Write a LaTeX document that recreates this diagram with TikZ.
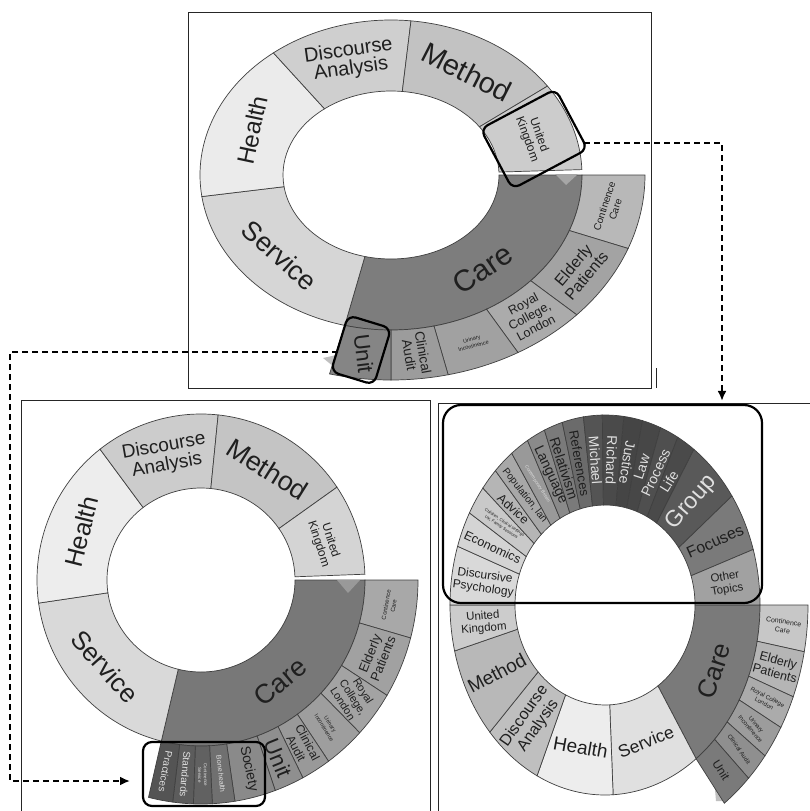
\documentclass[tikz,border=0pt]{standalone}
\usepackage{fontspec}
\setmainfont{Liberation Sans}
\usetikzlibrary{calc,arrows.meta}
\newcommand\fsz[2]{\fontsize{#1}{#2}\selectfont}
% ring sector: cx, cy, rx-in, ry-in, rx-out, ry-out, angle1, angle2, fill
\newcommand\seg[9]{\filldraw[segline,fill=#9,shift={(#1,#2)}] (#7:#5 and #6) arc[start angle=#7,end angle=#8,x radius=#5,y radius=#6] -- (#8:#3 and #4) arc[start angle=#8,end angle=#7,x radius=#3,y radius=#4] -- cycle;}
% label: name, cx, cy, rx, ry, angle, rotate, style, text
\newcommand\lbl[9]{\node[lab,rotate=#7,#8] (#1) at ($(#2,#3)+(#6:#4 and #5)$) {#9};}
\begin{document}
\begin{tikzpicture}[x=1pt,y=1pt,yscale=-1,
  segline/.style={draw=black!75,line width=0.7pt},
  lab/.style={inner sep=0pt,align=center,text=black!88},
  light/.style={text=white!88!black},
  frame/.style={draw=black!85,line width=1pt},
  selbox/.style={draw=black,line width=2.2pt,rounded corners=8pt,fill=none,inner sep=0pt},
  link/.style={draw=black,line width=2pt,dash pattern=on 6pt off 4pt,-{Latex[length=10pt,width=9pt]}}]
\useasboundingbox (0,0) rectangle (810,811);
\fill[white] (0,0) rectangle (810,811);

% ================= panel 1 =================
\draw[frame] (188,12) rectangle (651,388);
\draw[frame] (656,368) -- (656,388);
\fill[black!25] (323,358) -- (341,354) -- (339,371) -- cycle;
\seg{391}{175}{108}{84}{191}{155}{0}{104}{black!51}
\seg{391}{175}{108}{84}{191}{155}{104}{172}{black!16}
\seg{391}{175}{108}{84}{191}{155}{172}{232}{black!8}
\seg{391}{175}{108}{84}{191}{155}{232}{276}{black!19}
\seg{391}{175}{108}{84}{191}{155}{276}{325}{black!24}
\seg{391}{175}{108}{84}{191}{155}{325}{358}{black!20}
\seg{391}{175}{191}{155}{254}{205}{0}{21}{black!28}
\seg{391}{175}{191}{155}{254}{205}{21}{43}{black!36}
\seg{391}{175}{191}{155}{254}{205}{43}{60}{black!33}
\seg{391}{175}{191}{155}{254}{205}{60}{77}{black!37}
\seg{391}{175}{191}{155}{254}{205}{77}{90}{black!39}
\seg{391}{175}{191}{155}{254}{205}{90}{104}{black!48}
\fill[black!35] (555,174) -- (578,174) -- (566,185) -- cycle;
\lbl{ahealth}{391}{175}{149.5}{119.5}{202}{78}{font=\fsz{24}{26}}{Health}
\lbl{ada}{391}{175}{149.5}{119.5}{254}{8}{font=\fsz{20}{19}}{Discourse\\Analysis}
\lbl{amethod}{391}{175}{149.5}{119.5}{300.5}{-27}{font=\fsz{29}{30}}{Method}
\lbl{auk}{391}{175}{149.5}{119.5}{341.5}{-70}{font=\fsz{12}{12.5}}{United\\Kingdom}
\lbl{aservice}{391}{175}{149.5}{119.5}{138}{-42}{font=\fsz{27}{28}}{Service}
\lbl{acare}{391}{175}{149.5}{119.5}{52}{34}{font=\fsz{30}{30}}{Care}
\lbl{acont}{391}{175}{222.5}{180}{10.5}{72}{font=\fsz{10}{11.5}}{Continence\\Care}
\lbl{aeld}{391}{175}{222.5}{180}{32}{50}{font=\fsz{16}{17}}{Elderly\\Patients}
\lbl{aroy}{391}{175}{222.5}{180}{51.5}{28}{font=\fsz{12.5}{13.5}}{Royal\\College,\\London}
\lbl{auri}{391}{175}{222.5}{180}{68.5}{15}{font=\fsz{5.5}{7}}{Urinary\\Incontinence}
\lbl{acli}{391}{175}{222.5}{180}{83.5}{-80}{font=\fsz{13.5}{14}}{Clinical\\Audit}
\lbl{aunit}{391}{175}{222.5}{180}{97}{-83}{font=\fsz{22}{22}}{Unit}
\node[selbox,minimum width=85pt,minimum height=68pt,rotate=28] (ukbox) at (534,139) {};
\node[selbox,minimum width=45pt,minimum height=59pt,rotate=-17] (unitbox) at (361,350) {};

% ================= panel 2 =================
\draw[frame] (21,811) -- (21,400) -- (430,400) -- (430,811);
\seg{201}{580}{94}{92}{164}{166}{0}{104}{black!53}
\seg{201}{580}{94}{92}{164}{166}{104}{172}{black!15}
\seg{201}{580}{94}{92}{164}{166}{172}{232}{black!7}
\seg{201}{580}{94}{92}{164}{166}{232}{276}{black!20}
\seg{201}{580}{94}{92}{164}{166}{276}{326}{black!23}
\seg{201}{580}{94}{92}{164}{166}{326}{358}{black!17}
\seg{201}{580}{164}{166}{217}{224}{0}{15}{black!34}
\seg{201}{580}{164}{166}{217}{224}{15}{31}{black!37}
\seg{201}{580}{164}{166}{217}{224}{31}{43}{black!36}
\seg{201}{580}{164}{166}{217}{224}{43}{54}{black!38}
\seg{201}{580}{164}{166}{217}{224}{54}{62}{black!40}
\seg{201}{580}{164}{166}{217}{224}{62}{70}{black!44}
\seg{201}{580}{164}{166}{217}{224}{70}{81}{black!46}
\seg{201}{580}{164}{166}{217}{224}{81}{87}{black!56}
\seg{201}{580}{164}{166}{217}{224}{87}{92}{black!62}
\seg{201}{580}{164}{166}{217}{224}{92}{97.5}{black!64}
\seg{201}{580}{164}{166}{217}{224}{97.5}{104}{black!67}
\fill[black!40] (337,580) -- (360,580) -- (348,593) -- cycle;
\lbl{bhealth}{201}{580}{129}{129}{202}{76}{font=\fsz{25}{26}}{Health}
\lbl{bda}{201}{580}{129}{129}{254}{10}{font=\fsz{19}{19}}{Discourse\\Analysis}
\lbl{bmethod}{201}{580}{129}{129}{301}{-32}{font=\fsz{27}{28}}{Method}
\lbl{buk}{201}{580}{129}{129}{343}{-72}{font=\fsz{12}{12.5}}{United\\Kingdom}
\lbl{bservice}{201}{580}{129}{129}{138}{-48}{font=\fsz{26}{27}}{Service}
\lbl{bcare}{201}{580}{129}{129}{52}{40}{font=\fsz{27}{27}}{Care}
\lbl{bcont}{201}{580}{190.5}{195}{7.5}{80}{font=\fsz{6}{7.5}}{Continence\\Care}
\lbl{beld}{201}{580}{190.5}{195}{23}{68}{font=\fsz{13}{14}}{Elderly\\Patients}
\lbl{broy}{201}{580}{190.5}{195}{37}{-58}{font=\fsz{11}{12}}{Royal\\College,\\London}
\lbl{buri}{201}{580}{190.5}{195}{48.5}{-58}{font=\fsz{5.5}{7}}{Urinary\\Incontinence}
\lbl{bcli}{201}{580}{190.5}{195}{58}{-62}{font=\fsz{12}{13}}{Clinical\\Audit}
\lbl{bunit}{201}{580}{190.5}{195}{66}{-68}{font=\fsz{22}{22}}{Unit}
\lbl{bsoc}{201}{580}{190.5}{195}{75.5}{-78}{font=\fsz{14}{14}}{Society}
\lbl{bbone}{201}{580}{190.5}{195}{84}{-84}{font=\fsz{7}{7},light}{Bone health}
\lbl{bcserv}{201}{580}{190.5}{195}{89.5}{-89}{font=\fsz{4.5}{5.8},light}{Continence\\Service}
\lbl{bstand}{201}{580}{190.5}{195}{94.75}{-95}{font=\fsz{10}{10},light}{Standards}
\lbl{bprac}{201}{580}{190.5}{195}{100.75}{-100}{font=\fsz{10}{10},light}{Practices}
\node[selbox,minimum width=122pt,minimum height=64pt,rounded corners=9pt] (p2box) at (204,774) {};

% ================= panel 3 =================
\draw[frame] (438,811) -- (438,403) -- (810,403);
\fill[black!25] (714,778) -- (716,801) -- (727,801) -- cycle;
\seg{605}{605}{90}{100}{155}{190}{0}{54}{black!52}
\seg{605}{605}{90}{100}{155}{190}{54}{87}{black!12}
\seg{605}{605}{90}{100}{155}{190}{87}{116}{black!7}
\seg{605}{605}{90}{100}{155}{190}{116}{138}{black!25}
\seg{605}{605}{90}{100}{155}{190}{138}{166}{black!28}
\seg{605}{605}{90}{100}{155}{190}{166}{180}{black!20}
\seg{605}{605}{90}{100}{155}{190}{180}{198}{black!15}
\seg{605}{605}{90}{100}{155}{190}{198}{209}{black!17}
\seg{605}{605}{90}{100}{155}{190}{209}{218}{black!21}
\seg{605}{605}{90}{100}{155}{190}{218}{225}{black!29}
\seg{605}{605}{90}{100}{155}{190}{225}{233}{black!34}
\seg{605}{605}{90}{100}{155}{190}{233}{240}{black!40}
\seg{605}{605}{90}{100}{155}{190}{240}{247}{black!46}
\seg{605}{605}{90}{100}{155}{190}{247}{254}{black!52}
\seg{605}{605}{90}{100}{155}{190}{254}{262}{black!58}
\seg{605}{605}{90}{100}{155}{190}{262}{269}{black!67}
\seg{605}{605}{90}{100}{155}{190}{269}{277}{black!71}
\seg{605}{605}{90}{100}{155}{190}{277}{284}{black!73}
\seg{605}{605}{90}{100}{155}{190}{284}{291}{black!72}
\seg{605}{605}{90}{100}{155}{190}{291}{298}{black!69}
\seg{605}{605}{90}{100}{155}{190}{298}{305}{black!71}
\seg{605}{605}{90}{100}{155}{190}{305}{325}{black!65}
\seg{605}{605}{90}{100}{155}{190}{325}{343}{black!52}
\seg{605}{605}{90}{100}{155}{190}{343}{360}{black!37}
\seg{605}{605}{155}{190}{203}{245}{0}{11}{black!22}
\seg{605}{605}{155}{190}{203}{245}{11}{22}{black!29}
\seg{605}{605}{155}{190}{203}{245}{22}{30}{black!33}
\seg{605}{605}{155}{190}{203}{245}{30}{38}{black!39}
\seg{605}{605}{155}{190}{203}{245}{38}{45}{black!44}
\seg{605}{605}{155}{190}{203}{245}{45}{54}{black!52}
\lbl{ccare}{605}{605}{122.5}{145}{27}{72}{font=\fsz{26}{26}}{Care}
\lbl{cservice}{605}{605}{122.5}{145}{70.5}{22}{font=\fsz{17.5}{18}}{Service}
\lbl{chealth}{605}{605}{122.5}{145}{101.5}{-10}{font=\fsz{19}{19}}{Health}
\lbl{cda}{605}{605}{122.5}{145}{127}{55}{font=\fsz{16}{17}}{Discourse\\Analysis}
\lbl{cmethod}{605}{605}{122.5}{145}{152}{28}{font=\fsz{19}{19}}{Method}
\lbl{cuk}{605}{605}{122.5}{145}{173}{5}{font=\fsz{11.5}{12.5}}{United\\Kingdom}
\lbl{cdp}{605}{605}{122.5}{145}{189}{-8}{font=\fsz{12}{13}}{Discursive\\Psychology}
\lbl{ceco}{605}{605}{122.5}{145}{203.5}{-25}{font=\fsz{12.5}{13}}{Economics}
\lbl{cchild}{605}{605}{122.5}{145}{213.5}{-34}{font=\fsz{4.2}{5.6}}{Children, Clinical settings\\UK, Family Sessions}
\lbl{cadv}{605}{605}{122.5}{145}{221.5}{-42}{font=\fsz{12.5}{13}}{Advice}
\lbl{cpop}{605}{605}{122.5}{145}{229}{-52}{font=\fsz{10}{10}}{Population, lan}
\lbl{ccont}{605}{605}{122.5}{145}{236.5}{-57}{font=\fsz{4.5}{5},light}{Contemporary Britain}
\lbl{clang}{605}{605}{122.5}{145}{243.5}{-65}{font=\fsz{14}{14}}{Language}
\lbl{crel}{605}{605}{122.5}{145}{250.5}{-72}{font=\fsz{14}{14}}{Relativism}
\lbl{cref}{605}{605}{122.5}{145}{258}{-80}{font=\fsz{13}{13}}{References}
\lbl{cmic}{605}{605}{122.5}{145}{265.5}{-86}{font=\fsz{14}{14},light}{Michael}
\lbl{cric}{605}{605}{122.5}{145}{273}{-92}{font=\fsz{14}{14},light}{Richard}
\lbl{cjus}{605}{605}{122.5}{145}{280.5}{-99}{font=\fsz{14}{14},light}{Justice}
\lbl{claw}{605}{605}{122.5}{145}{287.5}{72}{font=\fsz{14}{14},light}{Law}
\lbl{cproc}{605}{605}{122.5}{145}{294.5}{65}{font=\fsz{14}{14},light}{Process}
\lbl{clife}{605}{605}{122.5}{145}{301.5}{58}{font=\fsz{14}{14},light}{Life}
\lbl{cgroup}{605}{605}{122.5}{145}{315}{49}{font=\fsz{23}{23},light}{Group}
\lbl{cfoc}{605}{605}{122.5}{145}{334}{24}{font=\fsz{16}{16}}{Focuses}
\lbl{cother}{605}{605}{122.5}{145}{351.5}{10}{font=\fsz{11.5}{13}}{Other\\Topics}
\lbl{cscont}{605}{605}{179}{217.5}{5.5}{-8}{font=\fsz{7}{8.5}}{Continence\\Care}
\lbl{cseld}{605}{605}{179}{217.5}{16.5}{-15}{font=\fsz{12.5}{13.5}}{Elderly\\Patients}
\lbl{csroy}{605}{605}{179}{217.5}{26}{-28}{font=\fsz{6}{7.5}}{Royal College\\London}
\lbl{csuri}{605}{605}{179}{217.5}{34}{-50}{font=\fsz{6}{7.5}}{Urinary\\Incontinence}
\lbl{cscli}{605}{605}{179}{217.5}{41.5}{-55}{font=\fsz{6}{7}}{Clinical Audit}
\lbl{csunit}{605}{605}{179}{217.5}{49.5}{-58}{font=\fsz{12}{12}}{Unit}
\node[selbox,minimum width=319pt,minimum height=198pt,rounded corners=18pt] (p3box) at (602.5,504) {};

% ================= links =================
\coordinate (ukout) at (584,143);
\coordinate (ukturn) at (722,143);
\draw[link,shorten >=3pt] (ukout) -- (ukturn) -- (ukturn |- p3box.north);
\coordinate (unitout) at (338,352);
\coordinate (unitturn) at (10,352);
\coordinate (p2in) at (130,781);
\draw[link] (unitout) -- (unitturn) |- (p2in);
\end{tikzpicture}
\end{document}
